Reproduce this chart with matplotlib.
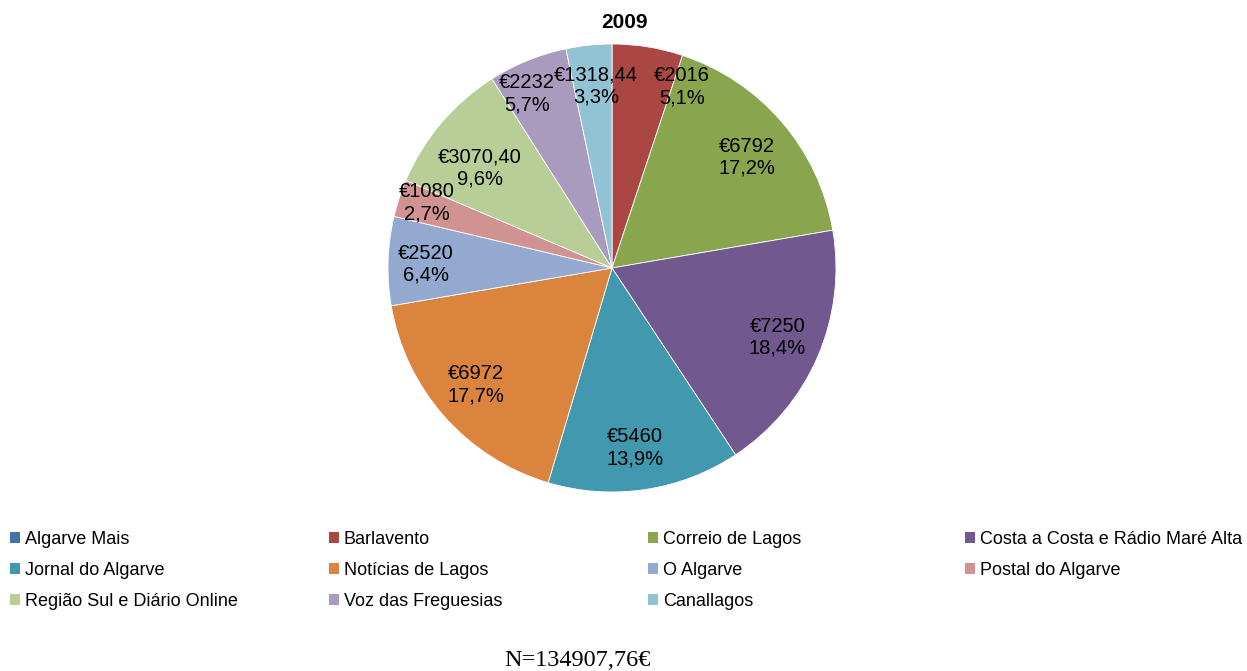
import numpy as np
import matplotlib
matplotlib.use("Agg")
import matplotlib.pyplot as plt
from matplotlib.patches import Patch

SANS = "Liberation Sans"
SERIF = "Liberation Serif"

# ---- data ----
categories = ["Algarve Mais", "Barlavento", "Correio de Lagos",
              "Costa a Costa e Rádio Maré Alta", "Jornal do Algarve",
              "Notícias de Lagos", "O Algarve", "Postal do Algarve",
              "Região Sul e Diário Online", "Voz das Freguesias", "Canallagos"]
percents = [0.0, 5.1, 17.2, 18.4, 13.9, 17.7, 6.4, 2.7, 9.6, 5.7, 3.3]
value_labels = ["", "€2016", "€6792", "€7250", "€5460", "€6972", "€2520",
                "€1080", "€3070,40", "€2232", "€1318,44"]
pct_labels = ["", "5,1%", "17,2%", "18,4%", "13,9%", "17,7%", "6,4%",
              "2,7%", "9,6%", "5,7%", "3,3%"]
title = "2009"
note = "N=134907,76€"

# ---- style ----
colors = ["#4572A7", "#AA4643", "#89A54E", "#71588F", "#4198AF",
          "#DB843D", "#93A9CF", "#D19392", "#B9CD96", "#A99BBD", "#92C3D4"]
# label placement relative to each wedge's mid-angle (degrees) and radius fraction
label_angle_shift = [0, -11.9, -1.4, 0.7, -1.2, -1.0, 0.6, -1.2, 3.2, 3.9, -1.0]
label_radius = [0.8, 0.866, 0.78, 0.80, 0.81, 0.80, 0.83, 0.875, 0.74, 0.865, 0.815]

W, H = 1247, 671
fig = plt.figure(figsize=(W / 100, H / 100), dpi=100)

cx, cy, r = 612, 268, 224
ax = fig.add_axes([(cx - r) / W, (H - cy - r) / H, 2 * r / W, 2 * r / H])
wedges, _ = ax.pie(percents, colors=colors, startangle=90, counterclock=False,
                   radius=1.0, wedgeprops=dict(edgecolor="white", linewidth=0.6))
ax.set_xlim(-1, 1)
ax.set_ylim(-1, 1)
ax.set_aspect("equal")
ax.axis("off")

for w, v, p, da, rd in zip(wedges, value_labels, pct_labels,
                           label_angle_shift, label_radius):
    if not v:
        continue
    ang = np.deg2rad((w.theta1 + w.theta2) / 2 + da)
    ax.text(rd * np.cos(ang), rd * np.sin(ang), v + "\n" + p, ha="center",
            va="center", fontsize=14.5, family=SANS, linespacing=1.2)

fig.text(625 / W, 1 - 22.5 / H, title, ha="center", va="center",
         fontsize=15, fontweight="bold", family=SANS)

# legend: row-major, 4 columns with fixed starts
col_x = [10, 329, 648, 965]
ncol = 4
for j in range(ncol):
    idx = list(range(j, len(categories), ncol))
    handles = [Patch(facecolor=colors[i], edgecolor="none") for i in idx]
    labs = [categories[i] for i in idx]
    fig.legend(handles, labs, loc="upper left",
               bbox_to_anchor=(col_x[j] / W, 1 - 531 / H), frameon=False,
               prop=dict(family=SANS, size=13), handlelength=0.55,
               handleheight=0.55, handletextpad=0.28, labelspacing=0.78,
               borderpad=0, borderaxespad=0)

fig.text(577 / W, 1 - 660 / H, note, ha="center", va="center",
         fontsize=17.5, family=SERIF)

fig.savefig("out.png", dpi=100, facecolor="white")
